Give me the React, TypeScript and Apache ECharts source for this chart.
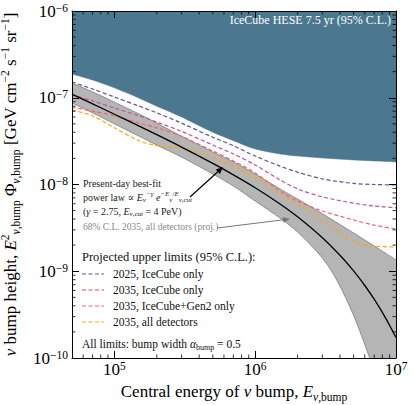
import React, { useEffect, useRef } from "react";
import * as echarts from "echarts";

const FONT = "'Liberation Serif', 'DejaVu Serif', 'Times New Roman', serif";

// ---- data ----
const energyGrid = [5e4, 7e4, 1e5, 1.5e5, 2e5, 3e5, 5e5, 7e5, 1e6, 1.5e6, 2e6, 3e6, 5e6, 7e6, 1e7];
const heseLimit = [1.88e-7, 1.6e-7, 1.3e-7, 9.9e-8, 8.0e-8, 6.0e-8, 4.0e-8, 3.2e-8, 2.57e-8, 2.25e-8, 2.13e-8, 2.02e-8, 1.92e-8, 1.87e-8, 1.82e-8];
const ic2025 = [1.52e-7, 1.26e-7, 1.02e-7, 8.0e-8, 6.7e-8, 5.1e-8, 3.5e-8, 2.8e-8, 2.13e-8, 1.63e-8, 1.39e-8, 1.16e-8, 1.03e-8, 1.0e-8, 9.9e-9];
const ic2035 = [1.08e-7, 9.2e-8, 7.6e-8, 6.2e-8, 5.25e-8, 4.1e-8, 2.85e-8, 2.25e-8, 1.68e-8, 1.13e-8, 8.9e-9, 7.2e-9, 6.1e-9, 5.65e-9, 5.4e-9];
const gen2035 = [7.8e-8, 7.0e-8, 6.2e-8, 5.1e-8, 4.5e-8, 3.6e-8, 2.43e-8, 1.87e-8, 1.36e-8, 8.4e-9, 6.45e-9, 4.95e-9, 3.9e-9, 3.4e-9, 3.07e-9];
const all2035 = [7.2e-8, 6.2e-8, 4.5e-8, 3.2e-8, 2.8e-8, 2.63e-8, 2.07e-8, 1.63e-8, 1.22e-8, 7.8e-9, 6.0e-9, 3.9e-9, 2.17e-9, 1.95e-9, 1.9e-9];

const bandHigh = [1.48e-7, 1.17e-7, 8.9e-8, 6.5e-8, 5.1e-8, 3.6e-8, 2.37e-8, 1.82e-8, 1.32e-8, 8.9e-9, 6.8e-9, 4.6e-9, 2.76e-9, 1.96e-9, 1.35e-9];
const bandLowE = [5e4, 7e4, 1e5, 1.5e5, 2e5, 3e5, 5e5, 7e5, 1e6, 1.5e6, 2e6, 3e6, 3.8e6, 5e6, 6.5e6];
const bandLow = [8.7e-8, 6.7e-8, 5.0e-8, 3.6e-8, 2.85e-8, 2.07e-8, 1.32e-8, 9.6e-9, 6.45e-9, 4.1e-9, 2.83e-9, 1.42e-9, 7.9e-10, 3.1e-10, 1.0e-10];

const bestFitE = [5e4, 7e4, 1e5, 1.5e5, 2e5, 3e5, 5e5, 7e5, 1e6, 1.5e6, 2e6, 3e6, 4e6, 5e6, 6e6, 7e6, 8.5e6, 1e7];
const bestFit = [1.1e-7, 8.5e-8, 6.46e-8, 4.71e-8, 3.75e-8, 2.7e-8, 1.75e-8, 1.29e-8, 9.17e-9, 5.97e-9, 4.25e-9, 2.44e-9, 1.53e-9, 1.01e-9, 6.85e-10, 4.76e-10, 2.83e-10, 1.72e-10];

const minorXTicks = [6e4, 7e4, 8e4, 9e4, 2e5, 3e5, 4e5, 5e5, 6e5, 7e5, 8e5, 9e5, 2e6, 3e6, 4e6, 5e6, 6e6, 7e6, 8e6, 9e6];
const minorYTicks = [
  2e-10, 3e-10, 4e-10, 5e-10, 6e-10, 7e-10, 8e-10, 9e-10,
  2e-9, 3e-9, 4e-9, 5e-9, 6e-9, 7e-9, 8e-9, 9e-9,
  2e-8, 3e-8, 4e-8, 5e-8, 6e-8, 7e-8, 8e-8, 9e-8,
  2e-7, 3e-7, 4e-7, 5e-7, 6e-7, 7e-7, 8e-7, 9e-7,
];

const X_MIN = 5e4, X_MAX = 1e7, Y_MIN = 1e-10, Y_MAX = 1e-6;

const TEAL = "#4b788f";
const C_2025 = "#5a5599";
const C_2035 = "#c64d9b";
const C_GEN2 = "#f4626c";
const C_ALL = "#ffa514";

const limitSeries = [
  { name: "2025, IceCube only", values: ic2025, color: C_2025 },
  { name: "2035, IceCube only", values: ic2035, color: C_2035 },
  { name: "2035, IceCube+Gen2 only", values: gen2035, color: C_GEN2 },
  { name: "2035, all detectors", values: all2035, color: C_ALL },
];

const pairs = (xs: number[], ys: number[]) => xs.map((x, i) => [x, ys[i]]);

const powLabel = (v: number) => {
  const e = Math.log10(v);
  const r = Math.round(e);
  if (Math.abs(e - r) > 1e-6) return "";
  return `{b|10}{s|${r < 0 ? "−" + -r : r}}`;
};

const tickRich = {
  b: { fontSize: 17, fontFamily: FONT, color: "#000", lineHeight: 19 },
  s: { fontSize: 11.5, fontFamily: FONT, color: "#000", verticalAlign: "top" },
};

const nameRich = {
  n: { fontSize: 17, fontFamily: FONT, color: "#000", lineHeight: 23 },
  ni: { fontSize: 17, fontFamily: FONT, fontStyle: "italic", color: "#000", lineHeight: 23 },
  i: { fontSize: 17, fontFamily: FONT, fontStyle: "italic", color: "#000", lineHeight: 23 },
  sup: { fontSize: 11.5, fontFamily: FONT, color: "#000", verticalAlign: "top" },
  sub: { fontSize: 11.5, fontFamily: FONT, color: "#000", verticalAlign: "bottom" },
  subi: { fontSize: 11.5, fontFamily: FONT, fontStyle: "italic", color: "#000", verticalAlign: "bottom" },
};

function arrow(x1: number, y1: number, x2: number, y2: number, color: string, w: number, head = 7) {
  const ang = Math.atan2(y2 - y1, x2 - x1);
  const hw = head * 0.42;
  const bx = x2 - head * Math.cos(ang);
  const by = y2 - head * Math.sin(ang);
  const px = -Math.sin(ang);
  const py = Math.cos(ang);
  return [
    { type: "line", z: 20, shape: { x1, y1, x2: bx, y2: by }, style: { stroke: color, lineWidth: w } },
    {
      type: "polygon",
      z: 20,
      shape: { points: [[x2, y2], [bx + px * hw, by + py * hw], [bx - px * hw, by - py * hw]] },
      style: { fill: color },
    },
  ];
}

const annN = (size: number, color: string, lh: number) => ({ fontSize: size, fontFamily: FONT, fill: color, lineHeight: lh });

function buildOption() {
  const axisCommon = {
    type: "log",
    logBase: 10,
    axisLine: { show: true, onZero: false, lineStyle: { color: "#000", width: 1 } },
    axisTick: { show: true, inside: true, length: 7, lineStyle: { color: "#000", width: 1 } },
    splitLine: { show: false },
    z: 5,
  };

  const legendX = 82;
  const rowY = [274, 290, 306, 322];
  const legendGraphics: any[] = [];
  limitSeries.forEach((s, i) => {
    legendGraphics.push({
      type: "line",
      z: 20,
      shape: { x1: legendX, y1: rowY[i], x2: legendX + 22, y2: rowY[i] },
      style: { stroke: s.color, lineWidth: 1.2, lineDash: [4, 2.5] },
    });
    legendGraphics.push({
      type: "text",
      z: 20,
      style: { x: legendX + 31, y: rowY[i], text: s.name, fontSize: 11.5, fontFamily: FONT, fill: "#111", verticalAlign: "middle" },
    });
  });

  const annColor = "#222";
  const annRich = {
    n: annN(10, annColor, 13),
    i: { fontSize: 10, fontFamily: FONT, fontStyle: "italic", fill: annColor, lineHeight: 13 },
    sup: { fontSize: 7, fontFamily: FONT, fontStyle: "italic", fill: annColor, verticalAlign: "top" },
    sub: { fontSize: 7, fontFamily: FONT, fill: annColor, verticalAlign: "bottom" },
    subi: { fontSize: 7, fontFamily: FONT, fontStyle: "italic", fill: annColor, verticalAlign: "bottom" },
  };

  const graphics: any[] = [
    {
      type: "text",
      z: 20,
      style: { x: 391, y: 20, text: "IceCube HESE 7.5 yr (95% C.L.)", fontSize: 12, fontFamily: FONT, fill: "#fff", align: "right", verticalAlign: "middle" },
    },
    {
      type: "text",
      z: 20,
      style: { x: 83, y: 183, text: "Present-day best-fit", fontSize: 10, fontFamily: FONT, fill: annColor, verticalAlign: "middle" },
    },
    {
      type: "text",
      z: 20,
      style: {
        x: 83, y: 197, verticalAlign: "middle",
        text: "{n|power law ∝ }{i|E}{subi|ν}{sup|−γ}{n| }{i|e}{sup|−E}{subi|ν}{sup|/E}{subi|ν,cut}",
        rich: annRich,
      },
    },
    {
      type: "text",
      z: 20,
      style: {
        x: 83, y: 211, verticalAlign: "middle",
        text: "{n|(}{i|γ}{n| = 2.75, }{i|E}{subi|ν}{sub|,cut}{n| = 4 PeV)}",
        rich: annRich,
      },
    },
    {
      type: "text",
      z: 20,
      style: { x: 83, y: 227, text: "68% C.L. 2035, all detectors (proj.)", fontSize: 9.5, fontFamily: FONT, fill: "#8a8a8a", verticalAlign: "middle" },
    },
    ...arrow(190, 197, 223, 167, "#000", 1.2, 7),
    ...arrow(217, 228, 290, 219, "#777", 1, 7),
    {
      type: "text",
      z: 20,
      style: { x: 82, y: 257, text: "Projected upper limits (95% C.L.):", fontSize: 12.5, fontFamily: FONT, fill: "#111", verticalAlign: "middle" },
    },
    ...legendGraphics,
    {
      type: "text",
      z: 20,
      style: {
        x: 82, y: 344, verticalAlign: "middle",
        text: "{n|All limits: bump width }{i|α}{sub|bump}{n| = 0.5}",
        rich: {
          n: annN(11.5, "#111", 15),
          i: { fontSize: 11.5, fontFamily: FONT, fontStyle: "italic", fill: "#111", lineHeight: 15 },
          sub: { fontSize: 8, fontFamily: FONT, fill: "#111", verticalAlign: "bottom" },
        },
      },
    },
  ];

  return {
    animation: false,
    backgroundColor: "#fff",
    grid: { left: 72, right: 17, top: 11, bottom: 47, containLabel: false, outerBoundsMode: "none" },
    xAxis: [
      {
        ...axisCommon,
        position: "bottom",
        min: X_MIN,
        max: X_MAX,
        axisLabel: { show: true, formatter: powLabel, rich: tickRich, margin: 2, showMinLabel: false },
        name: "{n|Central energy of }{ni|ν}{n| bump, }{i|E}{subi|ν}{sub|,bump}",
        nameLocation: "middle",
        nameGap: 16,
        nameTextStyle: { rich: nameRich },
      },
      {
        ...axisCommon,
        position: "top",
        min: X_MIN,
        max: X_MAX,
        axisLabel: { show: false },
      },
    ],
    yAxis: [
      {
        ...axisCommon,
        position: "left",
        min: Y_MIN,
        max: Y_MAX,
        axisLabel: { show: true, formatter: powLabel, rich: tickRich, margin: 4 },
        name:
          "{ni|ν}{n| bump height, }{i|E}{sup|2}{subi|ν}{sub|,bump}{n| Φ}{subi|ν}{sub|,bump}{n| [GeV cm}{sup|−2}{n| s}{sup|−1}{n| sr}{sup|−1}{n|]}",
        nameLocation: "middle",
        nameGap: 46,
        nameRotate: 90,
        nameTextStyle: { rich: nameRich },
      },
      {
        ...axisCommon,
        position: "right",
        min: Y_MIN,
        max: Y_MAX,
        axisLabel: { show: false },
      },
    ],
    graphic: graphics,
    series: [
      {
        name: "IceCube HESE 7.5 yr (95% C.L.)",
        type: "line",
        data: pairs(energyGrid, heseLimit),
        smooth: 0.3,
        symbol: "none",
        lineStyle: { color: TEAL, width: 0.5 },
        areaStyle: { color: TEAL, opacity: 1, origin: "end" },
        z: 1,
      },
      {
        name: "68% C.L. upper",
        type: "line",
        data: pairs(energyGrid, bandHigh),
        smooth: 0.3,
        symbol: "none",
        lineStyle: { color: "#7c7c7c", width: 0.8 },
        areaStyle: { color: "#b5b5b5", opacity: 1, origin: "start" },
        z: 1,
      },
      {
        name: "68% C.L. lower",
        type: "line",
        data: pairs(bandLowE, bandLow),
        smooth: 0.3,
        symbol: "none",
        lineStyle: { color: "#7c7c7c", width: 0.8 },
        areaStyle: { color: "#ffffff", opacity: 1, origin: "start" },
        z: 2,
      },
      ...limitSeries.map((s) => ({
        name: s.name,
        type: "line",
        data: pairs(energyGrid, s.values),
        smooth: 0.3,
        symbol: "none",
        lineStyle: { color: s.color, width: 1.2, type: [4, 2.5] },
        z: 3,
      })),
      {
        name: "Present-day best fit",
        type: "line",
        data: pairs(bestFitE, bestFit),
        smooth: 0.3,
        symbol: "none",
        lineStyle: { color: "#000", width: 1.3 },
        z: 4,
      },
      {
        type: "custom",
        silent: true,
        z: 6,
        clip: false,
        data: minorXTicks.map((v) => [v, Y_MIN]),
        renderItem: (_p: any, api: any) => {
          const v = api.value(0);
          const b = api.coord([v, Y_MIN]);
          const t = api.coord([v, Y_MAX]);
          return {
            type: "group",
            children: [
              { type: "line", shape: { x1: b[0], y1: b[1], x2: b[0], y2: b[1] - 3.5 }, style: { stroke: "#000", lineWidth: 0.8 } },
              { type: "line", shape: { x1: t[0], y1: t[1], x2: t[0], y2: t[1] + 3.5 }, style: { stroke: "#000", lineWidth: 0.8 } },
            ],
          };
        },
      },
      {
        type: "custom",
        silent: true,
        z: 6,
        clip: false,
        data: minorYTicks.map((v) => [X_MIN, v]),
        renderItem: (_p: any, api: any) => {
          const v = api.value(1);
          const l = api.coord([X_MIN, v]);
          const r = api.coord([X_MAX, v]);
          return {
            type: "group",
            children: [
              { type: "line", shape: { x1: l[0], y1: l[1], x2: l[0] + 3.5, y2: l[1] }, style: { stroke: "#000", lineWidth: 0.8 } },
              { type: "line", shape: { x1: r[0], y1: r[1], x2: r[0] - 3.5, y2: r[1] }, style: { stroke: "#000", lineWidth: 0.8 } },
            ],
          };
        },
      },
    ],
  };
}

export default function App() {
  const ref = useRef<HTMLDivElement>(null);
  useEffect(() => {
    if (!ref.current) return;
    const chart = echarts.init(ref.current, null, { renderer: "svg" });
    chart.setOption(buildOption() as any);
    return () => chart.dispose();
  }, []);
  return <div ref={ref} style={{ position: "fixed", left: 0, top: 0, width: 413, height: 405, background: "#fff" }} />;
}
